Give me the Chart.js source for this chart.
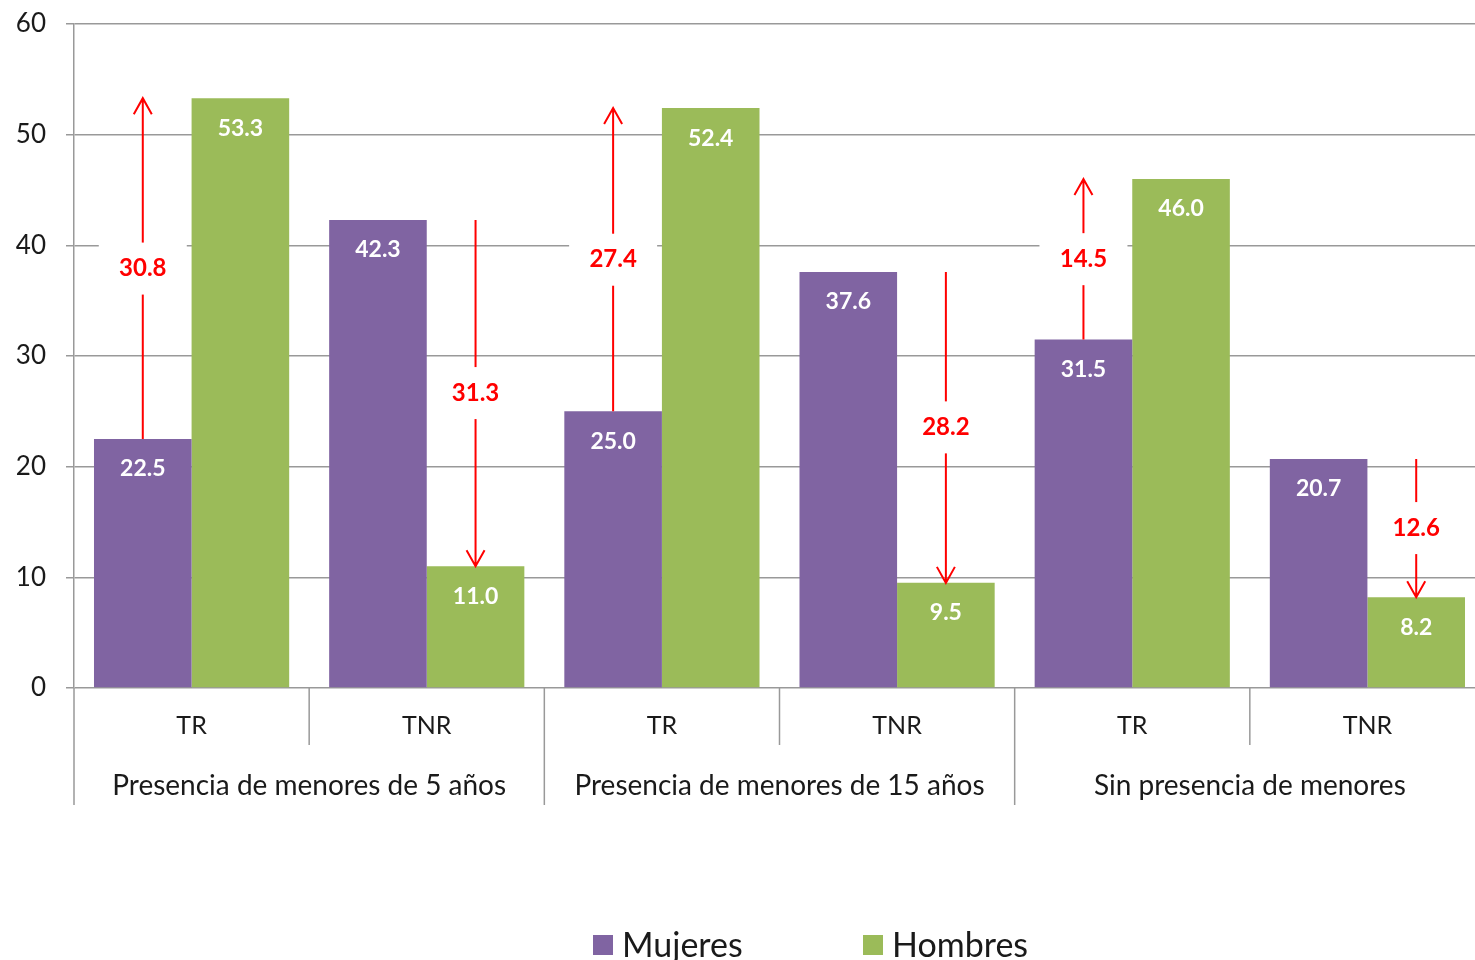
<!DOCTYPE html>
<html>
<head>
<meta charset="utf-8">
<script src="https://cdn.jsdelivr.net/npm/chart.js@4"></script>
<style>
  html, body { margin: 0; padding: 0; background: #fff; overflow: hidden; }
</style>
</head>
<body>
<canvas id="chart" width="1485" height="960"></canvas>
<script>
const categories = ["TR", "TNR", "TR", "TNR", "TR", "TNR"];
const groups = ["Presencia de menores de 5 años", "Presencia de menores de 15 años", "Sin presencia de menores"];
const mujeres = [22.5, 42.3, 25.0, 37.6, 31.5, 20.7];
const hombres = [53.3, 11.0, 52.4, 9.5, 46.0, 8.2];
const gaps = [30.8, 31.3, 27.4, 28.2, 14.5, 12.6];
const seriesNames = ["Mujeres", "Hombres"];
const seriesColors = ["#8064A2", "#9BBB59"];

const FONT = "Lato, 'Liberation Sans', sans-serif";

// white value labels inside the top of each bar
const valueLabels = {
  id: "valueLabels",
  afterDatasetsDraw(chart) {
    const ctx = chart.ctx;
    ctx.save();
    ctx.fillStyle = "#fff";
    ctx.font = "bold 23px " + FONT;
    ctx.textAlign = "center";
    ctx.textBaseline = "middle";
    chart.data.datasets.forEach((ds, d) => {
      chart.getDatasetMeta(d).data.forEach((bar, i) => {
        ctx.fillText(ds.data[i].toFixed(1), bar.x, bar.y + 30);
      });
    });
    ctx.restore();
  }
};

// red arrows showing the gap between women and men
const gapArrows = {
  id: "gapArrows",
  afterDatasetsDraw(chart) {
    const ctx = chart.ctx;
    const y = chart.scales.y;
    ctx.save();
    gaps.forEach((g, i) => {
      const m = mujeres[i], h = hombres[i];
      const bar = chart.getDatasetMeta(h > m ? 0 : 1).data[i];
      const x = bar.x;
      const y1 = y.getPixelForValue(m);
      const y2 = y.getPixelForValue(h);
      const dir = y2 < y1 ? 1 : -1;
      ctx.strokeStyle = "#ff0000";
      ctx.lineWidth = 2;
      ctx.beginPath();
      ctx.moveTo(x, y1);
      ctx.lineTo(x, y2);
      ctx.moveTo(x - 9, y2 + dir * 16);
      ctx.lineTo(x, y2);
      ctx.lineTo(x + 9, y2 + dir * 16);
      ctx.stroke();
      const my = (y1 + y2) / 2;
      ctx.fillStyle = "#fff";
      ctx.fillRect(x - 44, my - 26, 88, 52);
      ctx.fillStyle = "#ff0000";
      ctx.font = "bold 24px " + FONT;
      ctx.textAlign = "center";
      ctx.textBaseline = "middle";
      ctx.fillText(g.toFixed(1), x, my);
    });
    ctx.restore();
  }
};

// two-level category axis and legend
const axisAndLegend = {
  id: "axisAndLegend",
  afterDraw(chart) {
    const ctx = chart.ctx;
    const xs = chart.scales.x;
    const area = chart.chartArea;
    const w = (area.right - area.left) / categories.length;
    ctx.save();
    ctx.strokeStyle = "#999";
    ctx.lineWidth = 1.5;
    for (let k = 0; k < categories.length; k++) {
      const bx = area.left + k * w;
      ctx.beginPath();
      ctx.moveTo(bx, area.bottom);
      ctx.lineTo(bx, area.bottom + (k % 2 === 0 ? 117 : 57));
      ctx.stroke();
    }
    ctx.fillStyle = "#1a1a1a";
    ctx.textAlign = "center";
    ctx.textBaseline = "middle";
    ctx.font = "25px " + FONT;
    categories.forEach((c, i) => {
      ctx.fillText(c, xs.getPixelForValue(i), area.bottom + 38);
    });
    ctx.font = "28px " + FONT;
    groups.forEach((g, j) => {
      ctx.fillText(g, area.left + (2 * j + 1) * w, area.bottom + 98);
    });

    // legend
    ctx.font = "34px " + FONT;
    ctx.textAlign = "left";
    const lx = [593, 863];
    seriesNames.forEach((n, s) => {
      ctx.fillStyle = seriesColors[s];
      ctx.fillRect(lx[s], 935, 20, 20);
      ctx.fillStyle = "#1a1a1a";
      ctx.fillText(n, lx[s] + 29, 946);
    });
    ctx.restore();
  }
};

new Chart(document.getElementById("chart"), {
  type: "bar",
  data: {
    labels: categories,
    datasets: [
      { label: seriesNames[0], data: mujeres, backgroundColor: seriesColors[0] },
      { label: seriesNames[1], data: hombres, backgroundColor: seriesColors[1] }
    ]
  },
  options: {
    responsive: false,
    animation: false,
    layout: { padding: { top: 24, right: 0, left: 0, bottom: 0 } },
    categoryPercentage: 0.83,
    barPercentage: 1.0,
    plugins: {
      legend: { display: false },
      tooltip: { enabled: false }
    },
    scales: {
      x: {
        grid: { display: false },
        border: { display: false },
        ticks: { display: false },
        afterFit(scale) { scale.height = 272; }
      },
      y: {
        min: 0,
        max: 60,
        ticks: { stepSize: 10, color: "#1a1a1a", font: { size: 26, family: FONT }, padding: 20 },
        grid: { color: "#999", lineWidth: 1.5, tickLength: 8 },
        border: { color: "#999", width: 1.5 },
        afterFit(scale) {
          scale.width = 74;
          scale.paddingTop = 0;
          scale.paddingBottom = 0;
        }
      }
    }
  },
  plugins: [valueLabels, gapArrows, axisAndLegend]
});
</script>
</body>
</html>
